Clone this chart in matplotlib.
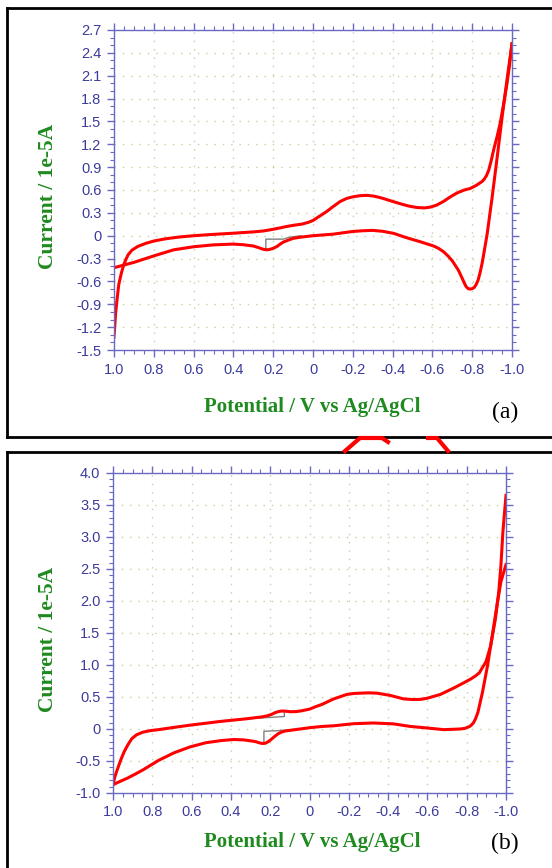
import matplotlib
matplotlib.use('Agg')
import matplotlib.pyplot as plt
from matplotlib.lines import Line2D
from matplotlib.ticker import MultipleLocator

W, H = 552, 868

# ---- data (potential in V, current in 1e-5 A) ----
# panel (a)
a_fwd_v = [1.0, 0.996, 0.992, 0.984, 0.976, 0.964, 0.952, 0.94, 0.929, 0.91, 0.88, 0.84,
           0.80, 0.74, 0.675, 0.6, 0.516, 0.405, 0.30, 0.25,
           0.214, 0.17, 0.135, 0.09, 0.056, 0.024, 0.0, -0.035, -0.07, -0.10, -0.137, -0.17,
           -0.20, -0.235, -0.27, -0.305, -0.338, -0.37, -0.40, -0.438, -0.48, -0.522, -0.56,
           -0.589, -0.62, -0.656, -0.69, -0.723, -0.76, -0.79, -0.82, -0.849, -0.86, -0.872,
           -0.883, -0.895, -0.908, -0.925, -0.941, -0.958, -0.975, -0.988, -1.0]
a_fwd_i = [-1.33, -1.18, -1.02, -0.82, -0.64, -0.50, -0.39, -0.31, -0.25, -0.19, -0.14, -0.10,
           -0.07, -0.04, -0.018, 0.0, 0.015, 0.032, 0.05, 0.062,
           0.078, 0.10, 0.12, 0.14, 0.152, 0.175, 0.20, 0.26, 0.32, 0.38, 0.45, 0.49,
           0.51, 0.525, 0.53, 0.52, 0.50, 0.475, 0.45, 0.42, 0.39, 0.37, 0.365,
           0.375, 0.40, 0.45, 0.51, 0.56, 0.60, 0.62, 0.66, 0.71, 0.74, 0.79,
           0.86, 0.98, 1.13, 1.30, 1.48, 1.73, 2.0, 2.25, 2.52]
a_rev_v = [-1.0, -0.975, -0.95, -0.925, -0.9, -0.875, -0.86, -0.85, -0.84, -0.83, -0.82,
           -0.81, -0.80, -0.79, -0.78, -0.77, -0.76, -0.75, -0.73, -0.70, -0.68, -0.656,
           -0.63, -0.606, -0.54, -0.47, -0.405, -0.35, -0.30, -0.25, -0.20, -0.10,
           0.0, 0.065, 0.10, 0.125, 0.15, 0.165, 0.18, 0.20, 0.215, 0.23, 0.25, 0.275,
           0.30, 0.35, 0.40, 0.50, 0.60, 0.70, 0.80, 0.90, 1.0]
a_rev_i = [2.52, 2.05, 1.55, 1.02, 0.5, 0.02, -0.21, -0.36, -0.48, -0.58, -0.64,
           -0.68, -0.695, -0.70, -0.695, -0.67, -0.62, -0.56, -0.45, -0.33, -0.27, -0.21,
           -0.165, -0.135, -0.08, -0.026, 0.031, 0.058, 0.07, 0.065, 0.056, 0.02,
           0.0, -0.02, -0.035, -0.058, -0.085, -0.11, -0.14, -0.165, -0.178, -0.185, -0.178, -0.155,
           -0.135, -0.118, -0.11, -0.12, -0.145, -0.185, -0.265, -0.35, -0.42]
a_gray_v = [0.237, 0.237, 0.15, 0.12, 0.06]
a_gray_i = [-0.185, -0.045, -0.045, -0.02, 0.0]

# panel (b)
b_fwd_v = [1.0, 0.99, 0.976, 0.96, 0.944, 0.925, 0.904, 0.88, 0.848, 0.81, 0.768, 0.69,
           0.608, 0.448, 0.32, 0.24, 0.215, 0.192, 0.175, 0.16,
           0.145, 0.128, 0.112, 0.096, 0.07, 0.048, 0.0, -0.032, -0.064, -0.123, -0.19, -0.225,
           -0.259, -0.30, -0.343, -0.411, -0.479, -0.53, -0.565, -0.598, -0.666, -0.734, -0.79,
           -0.82, -0.845, -0.865, -0.878, -0.898, -0.922, -0.946, -0.963, -0.974, -0.984, -0.993, -1.0]
b_fwd_i = [-0.87, -0.74, -0.615, -0.48, -0.36, -0.25, -0.15, -0.09, -0.05, -0.025, -0.01, 0.025,
           0.06, 0.12, 0.16, 0.19, 0.205, 0.23, 0.255, 0.27,
           0.28, 0.28, 0.275, 0.27, 0.272, 0.28, 0.31, 0.35, 0.385, 0.47, 0.54, 0.555,
           0.56, 0.565, 0.56, 0.525, 0.47, 0.46, 0.463, 0.48, 0.54, 0.64, 0.73,
           0.78, 0.83, 0.88, 0.95, 1.05, 1.30, 1.72, 2.14, 2.55, 3.07, 3.4, 3.65]
b_rev_v = [-1.0, -0.974, -0.954, -0.93, -0.906, -0.88, -0.857, -0.845, -0.835, -0.825, -0.815,
           -0.80, -0.79, -0.767, -0.683, -0.598, -0.513, -0.428, -0.326, -0.224, -0.123,
           -0.064, 0.0, 0.096, 0.125, 0.144, 0.16, 0.176, 0.192, 0.208, 0.222, 0.232, 0.245,
           0.256, 0.272, 0.288, 0.336, 0.384, 0.448, 0.528, 0.608, 0.688, 0.768, 0.848,
           0.89, 0.928, 0.965, 1.0]
b_rev_i = [2.57, 2.3, 1.93, 1.46, 0.99, 0.57, 0.26, 0.16, 0.1, 0.065, 0.04,
           0.02, 0.01, 0.0, -0.01, 0.016, 0.04, 0.08, 0.094, 0.083, 0.05,
           0.04, 0.02, -0.02, -0.032, -0.05, -0.075, -0.113, -0.155, -0.195, -0.218, -0.226, -0.224,
           -0.215, -0.2, -0.19, -0.17, -0.164, -0.18, -0.215, -0.28, -0.37, -0.49, -0.64,
           -0.71, -0.77, -0.82, -0.87]
b_gray1_v = [0.296, 0.128, 0.128]
b_gray1_i = [0.164, 0.195, 0.28]
b_gray2_v = [0.232, 0.232, 0.16, 0.096, 0.05]
b_gray2_i = [-0.215, -0.036, -0.026, -0.01, 0.0]

x_ticks = [1.0, 0.8, 0.6, 0.4, 0.2, 0.0, -0.2, -0.4, -0.6, -0.8, -1.0]
x_labels = ['1.0', '0.8', '0.6', '0.4', '0.2', '0', '-0.2', '-0.4', '-0.6', '-0.8', '-1.0']
a_yticks = [2.7, 2.4, 2.1, 1.8, 1.5, 1.2, 0.9, 0.6, 0.3, 0.0, -0.3, -0.6, -0.9, -1.2, -1.5]
a_ylabels = ['2.7', '2.4', '2.1', '1.8', '1.5', '1.2', '0.9', '0.6', '0.3', '0',
             '-0.3', '-0.6', '-0.9', '-1.2', '-1.5']
b_yticks = [4.0, 3.5, 3.0, 2.5, 2.0, 1.5, 1.0, 0.5, 0.0, -0.5, -1.0]
b_ylabels = ['4.0', '3.5', '3.0', '2.5', '2.0', '1.5', '1.0', '0.5', '0', '-0.5', '-1.0']

TICK_C = '#3b3b9c'
SPINE_C = '#6a6ac4'
GREEN = '#1f8a1f'
GRID_C = '#c9cf9c'
TICK_FONT = ['Liberation Sans Narrow', 'Liberation Sans', 'DejaVu Sans']
SERIF = ['Liberation Serif', 'DejaVu Serif']
RED_LW = 2.2

fig = plt.figure(figsize=(W / 100, H / 100), dpi=100)


def fig_box(l, t, r, b):
    return [l / W, 1 - b / H, (r - l) / W, (b - t) / H]


def setup(ax, ylim, yticks, ylabels, yminor):
    ax.set_xlim(1.0, -1.0)
    ax.set_ylim(*ylim)
    ax.set_xticks(x_ticks)
    ax.set_xticklabels(x_labels)
    ax.set_yticks(yticks)
    ax.set_yticklabels(ylabels)
    ax.xaxis.set_minor_locator(MultipleLocator(0.05))
    ax.yaxis.set_minor_locator(MultipleLocator(yminor))
    for s in ax.spines.values():
        s.set_color(SPINE_C)
        s.set_linewidth(1.0)
    ax.tick_params(which='both', direction='out', color=SPINE_C,
                   top=True, right=True, labelcolor=TICK_C, labelsize=10.5)
    ax.tick_params(which='major', length=5, width=1.0, pad=4)
    ax.tick_params(which='minor', length=3, width=0.8)
    for lab in ax.get_xticklabels() + ax.get_yticklabels():
        lab.set_family(TICK_FONT)
    ax.grid(True, which='major', color=GRID_C, linestyle=(0, (1, 5)), linewidth=1.0)
    ax.set_axisbelow(True)


# panel (a)
ax1 = fig.add_axes(fig_box(114, 30, 512, 350))
ax1.plot(a_gray_v, a_gray_i, color='#808080', lw=1.0)
ax1.plot(a_fwd_v, a_fwd_i, color='#ff0000', lw=RED_LW, solid_joinstyle='round')
ax1.plot(a_rev_v, a_rev_i, color='#ff0000', lw=RED_LW, solid_joinstyle='round')
setup(ax1, (-1.5, 2.7), a_yticks, a_ylabels, 0.1)

# panel (b)
ax2 = fig.add_axes(fig_box(113, 473, 506, 793))
ax2.plot(b_gray1_v, b_gray1_i, color='#808080', lw=1.0)
ax2.plot(b_gray2_v, b_gray2_i, color='#808080', lw=1.0)
ax2.plot(b_fwd_v, b_fwd_i, color='#ff0000', lw=RED_LW, solid_joinstyle='round')
ax2.plot(b_rev_v, b_rev_i, color='#ff0000', lw=RED_LW, solid_joinstyle='round')
setup(ax2, (-1.0, 4.0), b_yticks, b_ylabels, 0.1)

# axis titles and panel letters
for yc, ly, ry in [(196, 407, 412), (639, 842, 843)]:
    fig.text(48 / W, 1 - yc / H, 'Current / 1e-5A', rotation=90, ha='center', va='center',
             color=GREEN, fontsize=15.5, fontweight='bold', family=SERIF)
    fig.text(312 / W, 1 - ly / H, 'Potential / V vs Ag/AgCl', ha='center', va='center',
             color=GREEN, fontsize=15, fontweight='bold', family=SERIF)
for txt, yc in [('(a)', 412), ('(b)', 843)]:
    fig.text(505 / W, 1 - yc / H, txt, ha='center', va='center', color='black',
             fontsize=17, family=SERIF)

# black frames around each panel
def fline(xs, ys, **kw):
    fig.add_artist(Line2D([x / W for x in xs], [1 - y / H for y in ys],
                          transform=fig.transFigure, **kw))

fline([7, 560], [8, 8], color='black', lw=2)
fline([7, 7], [8, 437], color='black', lw=2)
fline([7, 560], [437, 437], color='black', lw=2)
fline([7, 560], [452, 452], color='black', lw=2)
fline([7, 7], [452, 880], color='black', lw=2)

# red strokes peeking out between the two frames
fline([345, 360, 382, 388], [451, 438, 438, 442], color='#ff0000', lw=3)
fline([428, 437, 448], [438, 438, 451], color='#ff0000', lw=3)

fig.savefig('out.png', dpi=100)
